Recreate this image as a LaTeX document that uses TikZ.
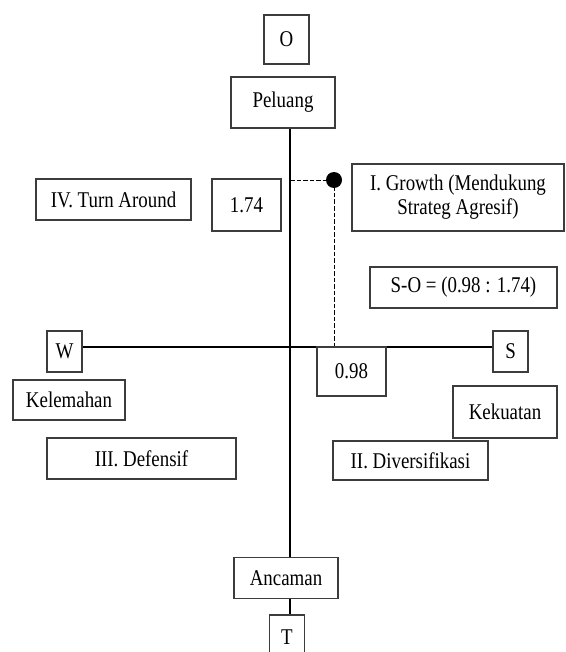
\documentclass[tikz,border=0pt]{standalone}
\usepackage{fontspec}
\setmainfont{Liberation Serif}[FakeStretch=0.84]
\definecolor{boxc}{HTML}{3C3C3C}
\begin{document}
\begin{tikzpicture}[x=1pt,y=-1pt,
  bx/.style={draw=boxc,fill=white,line width=1.4pt,inner sep=0pt,
    font=\fontsize{22.5}{24}\selectfont,align=center},
  axis/.style={line width=2pt,black},
  dsh/.style={line width=0.9pt,dash pattern=on 4.5pt off 2pt}]
\useasboundingbox (0,0) rectangle (565,652);
% axis reference coordinates
\coordinate (vx) at (290,0);
\coordinate (hy) at (0,347);
% top / bottom
\node[bx,minimum width=45,minimum height=49] (O) at (286.5,39.5) {O};
\node[bx,minimum width=104,minimum height=51] (Pel) at (283,102.5) {Peluang};
\node[bx,minimum width=104,minimum height=41] (Anc) at (286,578) {Ancaman};
\node[bx,minimum width=35,minimum height=44] (T) at (287,637) {T};
% axes
\draw[axis] (Pel.south -| vx) -- (Anc.north -| vx);
\draw[axis] (Anc.south -| vx) -- (T.north -| vx);
\node[bx,minimum width=35,minimum height=41] (W) at (64.5,351.5) {W};
\node[bx,minimum width=35,minimum height=41] (S) at (510.5,351.5) {S};
\draw[axis] (W.east |- hy) -- (S.west |- hy);
% point
\coordinate (pt) at (334,180);
\draw[dsh] (vx |- pt) -- (pt);
\draw[dsh] (pt) -- (pt |- hy);
\fill (pt) circle (8);
% labels
\node[bx,minimum width=155,minimum height=41] (IV) at (113.5,199.5) {IV. Turn Around};
\node[bx,minimum width=69,minimum height=52] (v174) at (246.5,205) {1.74};
\node[bx,minimum width=212,minimum height=67] (G) at (458,197.5) {I. Growth (Mendukung\\Strateg Agresif)};
\node[bx,minimum width=187,minimum height=41] (SO) at (463.5,287.5) {S-O = (0.98 : 1.74)};
\node[bx,minimum width=69,minimum height=49] (v098) at (351.5,371.5) {0.98};
\node[bx,minimum width=112,minimum height=40] (Kel) at (69,400) {Kelemahan};
\node[bx,minimum width=189,minimum height=41] (III) at (141.5,458.5) {III. Defensif};
\node[bx,minimum width=104,minimum height=52] (Kek) at (505,412) {Kekuatan};
\node[bx,minimum width=155,minimum height=39] (II) at (410.5,460.5) {II. Diversifikasi};
\end{tikzpicture}
\end{document}
